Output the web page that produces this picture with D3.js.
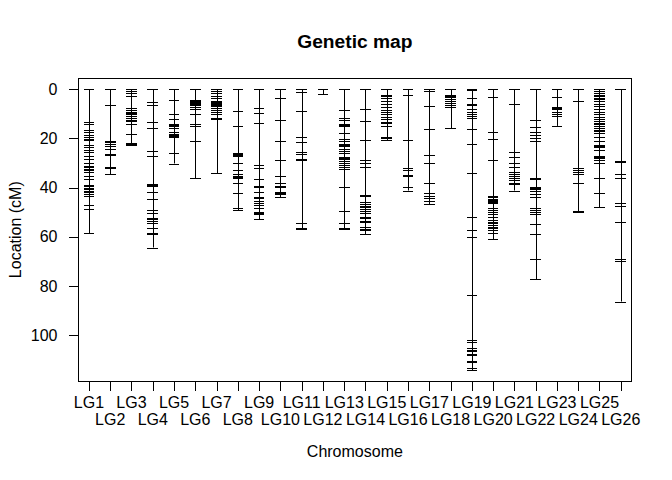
<!DOCTYPE html>
<html>
<head>
<meta charset="utf-8">
<script src="https://cdn.jsdelivr.net/npm/d3@7"></script>
<style>
  body { margin: 0; background: #fff; }
  text { font-family: Arial, "Liberation Sans", sans-serif; fill: #000; }
</style>
</head>
<body>
<div id="chart"></div>
<script>
// marker positions (cM) per linkage group
var LG1 = [0, 13.2, 14.1, 16.6, 17.5, 18.4, 19.3, 20.1, 20.5, 22.7, 23.6, 24.5, 25.7, 27.3, 28.4, 29.8, 31.1, 31.8, 32.3, 33.0, 33.7, 35.1, 36.4, 39.0, 39.5, 40.1, 40.5, 41.2, 42.0, 42.5, 43.3, 47.1, 48.8, 58.6];
var LG2 = [0, 6.5, 21.0, 21.5, 22.3, 23.2, 24.1, 26.4, 26.8, 31.7, 32.1, 34.5];
var LG3 = [0, 0.7, 1.6, 2.7, 7.5, 8.3, 9.1, 9.5, 9.9, 10.2, 11.0, 11.8, 12.3, 12.7, 13.0, 14.1, 18.3, 21.7, 22.1, 22.5];
var LG4 = [0, 5.3, 6.5, 13.5, 15.9, 25.3, 27.3, 38.7, 39.1, 39.5, 42.0, 44.8, 49.2, 50.3, 52.3, 52.9, 53.5, 54.3, 56.3, 58.3, 58.7, 59.1, 64.4];
var LG5 = [0, 4.5, 10.2, 12.2, 14.2, 14.6, 14.9, 15.9, 17.5, 18.1, 18.6, 19.0, 19.3, 26.1, 30.2];
var LG6 = [0, 4.3, 4.7, 5.0, 5.4, 5.8, 6.4, 7.2, 8.0, 10.2, 14.3, 14.9, 21.2, 36.3];
var LG7 = [0, 0.7, 1.6, 2.9, 3.7, 4.8, 5.2, 5.5, 5.85, 6.2, 6.7, 7.5, 8.3, 9.1, 9.9, 11.8, 12.2, 34.2];
var LG8 = [0, 9.0, 15.1, 26.0, 26.4, 26.8, 27.3, 29.8, 33.0, 34.5, 35.4, 35.8, 36.1, 38.2, 42.3, 48.2, 49.2];
var LG9 = [0, 7.7, 9.8, 13.9, 31.0, 32.2, 36.7, 39.5, 39.9, 41.7, 44.0, 44.4, 45.4, 46.1, 47.1, 48.2, 49.9, 50.3, 50.7, 52.8];
var LG10 = [0, 3.7, 12.5, 21.2, 28.9, 35.1, 38.2, 39.5, 39.9, 41.7, 42.2, 42.6, 43.9];
var LG11 = [0, 1.0, 8.8, 19.4, 21.5, 25.6, 26.5, 28.5, 28.9, 54.5, 56.6, 57.0];
var LG12 = [0, 2.0];
var LG13 = [0, 8.4, 11.6, 12.4, 14.1, 14.5, 14.9, 15.1, 17.9, 20.4, 21.2, 22.1, 22.5, 23.1, 24.3, 25.0, 25.96, 27.4, 27.8, 28.4, 29.2, 30.0, 30.8, 31.7, 32.6, 39.9, 49.6, 54.3, 56.6, 57.0];
var LG14 = [0, 8.2, 13.0, 20.8, 28.9, 29.8, 31.8, 42.9, 43.3, 45.8, 46.6, 47.3, 48.1, 48.9, 49.7, 50.5, 52.1, 52.5, 53.5, 53.9, 56.1, 57.0, 57.4, 58.96];
var LG15 = [0, 2.5, 2.9, 3.4, 4.6, 6.1, 7.2, 8.3, 9.3, 10.2, 11.1, 12.0, 13.4, 13.8, 14.9, 19.4, 19.8, 20.6];
var LG16 = [0, 2.4, 20.8, 32.2, 33.0, 35.0, 35.4, 39.9, 41.2];
var LG17 = [0, 0.8, 6.9, 16.2, 26.9, 29.8, 38.3, 42.4, 43.3, 44.4, 45.6, 46.7];
var LG18 = [0, 2.4, 2.8, 3.3, 3.9, 4.8, 5.6, 6.4, 7.2, 15.9];
var LG19 = [0, 0.3, 3.7, 6.1, 6.5, 8.2, 9.1, 9.9, 10.7, 11.6, 16.2, 22.4, 34.2, 51.8, 57.1, 60.3, 83.6, 101.9, 102.8, 105.3, 105.96, 106.6, 107.6, 108.3, 110.8, 111.2, 113.3, 114.3];
var LG20 = [0, 3.3, 17.5, 20.4, 28.9, 43.3, 44.0, 44.5, 44.9, 45.5, 45.9, 46.3, 48.2, 49.0, 49.9, 50.9, 51.9, 53.0, 54.1, 54.5, 55.3, 56.2, 56.6, 57.3, 58.6, 61.0];
var LG21 = [0, 5.8, 25.4, 27.6, 29.8, 31.5, 33.6, 34.4, 35.2, 36.1, 37.1, 38.2, 38.6, 41.2];
var LG22 = [0, 12.5, 15.4, 17.5, 18.6, 20.0, 21.2, 35.9, 36.7, 39.7, 40.1, 40.5, 41.4, 42.5, 43.9, 48.5, 49.2, 50.0, 50.8, 55.0, 59.1, 68.9, 77.3];
var LG23 = [0, 3.3, 7.1, 7.5, 7.9, 9.1, 10.1, 10.9, 14.9];
var LG24 = [0, 4.9, 31.9, 32.9, 33.7, 34.4, 38.3, 49.4, 49.8];
var LG25 = [0, 0.7, 1.5, 2.4, 2.8, 3.5, 3.9, 4.8, 5.85, 6.9, 8.0, 9.1, 10.2, 11.1, 12.1, 13.0, 13.9, 14.3, 14.8, 15.1, 15.6, 16.4, 16.8, 17.9, 19.3, 20.9, 22.5, 22.9, 23.4, 24.7, 27.0, 27.4, 27.9, 28.8, 30.0, 35.9, 42.4, 48.1];
var LG26 = [0, 29.0, 29.4, 34.6, 36.3, 46.1, 47.5, 54.1, 68.9, 70.0, 86.4];

var chrNames = ["LG1", "LG2", "LG3", "LG4", "LG5", "LG6", "LG7", "LG8", "LG9", "LG10", "LG11", "LG12", "LG13",
                "LG14", "LG15", "LG16", "LG17", "LG18", "LG19", "LG20", "LG21", "LG22", "LG23", "LG24", "LG25", "LG26"];
var markers = [LG1, LG2, LG3, LG4, LG5, LG6, LG7, LG8, LG9, LG10, LG11, LG12, LG13,
               LG14, LG15, LG16, LG17, LG18, LG19, LG20, LG21, LG22, LG23, LG24, LG25, LG26];
var yTicks = [0, 20, 40, 60, 80, 100];

var W = 672, H = 480;
var box = {left: 78.3, right: 631.4, top: 78.1, bottom: 381.3};

var svg = d3.select("#chart").append("svg")
    .attr("width", W)
    .attr("height", H);

var x = d3.scaleLinear().domain([0.5, chrNames.length + 0.5]).range([box.left, box.right]);
var maxPos = d3.max(markers, m => d3.max(m));
var y = d3.scaleLinear().domain([-0.04 * maxPos, 1.04 * maxPos]).range([box.top, box.bottom]);

// chromosomes
var chr = svg.selectAll(".chr")
    .data(markers)
    .enter().append("g")
    .attr("class", "chr");

chr.append("line")
    .attr("x1", (d, i) => Math.round(x(i + 1)) + 0.5)
    .attr("x2", (d, i) => Math.round(x(i + 1)) + 0.5)
    .attr("y1", d => y(0))
    .attr("y2", d => y(d3.max(d)))
    .attr("stroke", "#000")
    .attr("stroke-width", 1);

chr.each(function(d, i) {
    d3.select(this).selectAll(".mk")
        .data(d)
        .enter().append("line")
        .attr("class", "mk")
        .attr("x1", x(i + 1 - 0.25))
        .attr("x2", x(i + 1 + 0.25))
        .attr("y1", p => Math.round(y(p)) + 0.5)
        .attr("y2", p => Math.round(y(p)) + 0.5)
        .attr("stroke", "#000")
        .attr("stroke-width", 1)
        .attr("shape-rendering", "crispEdges");
});

// frame
svg.append("rect")
    .attr("x", Math.round(box.left) + 0.5)
    .attr("y", Math.round(box.top) + 0.5)
    .attr("width", Math.round(box.right) - Math.round(box.left))
    .attr("height", Math.round(box.bottom) - Math.round(box.top))
    .attr("fill", "none")
    .attr("stroke", "#000")
    .attr("shape-rendering", "crispEdges");

// y axis
var yAxis = svg.append("g").attr("class", "yaxis");
yAxis.selectAll(".tk").data(yTicks).enter().append("line")
    .attr("x1", Math.round(box.left) - 9).attr("x2", Math.round(box.left) + 0.5)
    .attr("y1", d => Math.round(y(d)) + 0.5).attr("y2", d => Math.round(y(d)) + 0.5)
    .attr("stroke", "#000")
    .attr("shape-rendering", "crispEdges");
yAxis.selectAll(".lb").data(yTicks).enter().append("text")
    .attr("x", 57.5)
    .attr("y", d => y(d))
    .attr("dy", "0.36em")
    .attr("text-anchor", "end")
    .style("font-size", "16px")
    .text(d => d);

// x axis
var xAxis = svg.append("g").attr("class", "xaxis");
xAxis.selectAll(".tk").data(chrNames).enter().append("line")
    .attr("x1", (d, i) => Math.round(x(i + 1)) + 0.5).attr("x2", (d, i) => Math.round(x(i + 1)) + 0.5)
    .attr("y1", Math.round(box.bottom)).attr("y2", Math.round(box.bottom) + 9.5)
    .attr("stroke", "#000")
    .attr("shape-rendering", "crispEdges");
xAxis.selectAll(".lb").data(chrNames).enter().append("text")
    .attr("x", (d, i) => x(i + 1))
    .attr("y", (d, i) => i % 2 === 0 ? 408 : 425)
    .attr("text-anchor", "middle")
    .style("font-size", "16px")
    .text(d => d);

// titles
svg.append("text")
    .attr("x", (box.left + box.right) / 2)
    .attr("y", 47.5)
    .attr("text-anchor", "middle")
    .style("font-size", "19.2px")
    .style("font-weight", "bold")
    .text("Genetic map");

svg.append("text")
    .attr("x", (box.left + box.right) / 2)
    .attr("y", 457)
    .attr("text-anchor", "middle")
    .style("font-size", "16px")
    .text("Chromosome");

svg.append("text")
    .attr("transform", "translate(20.5," + ((box.top + box.bottom) / 2) + ") rotate(-90)")
    .attr("text-anchor", "middle")
    .style("font-size", "16px")
    .text("Location (cM)");
</script>
</body>
</html>
